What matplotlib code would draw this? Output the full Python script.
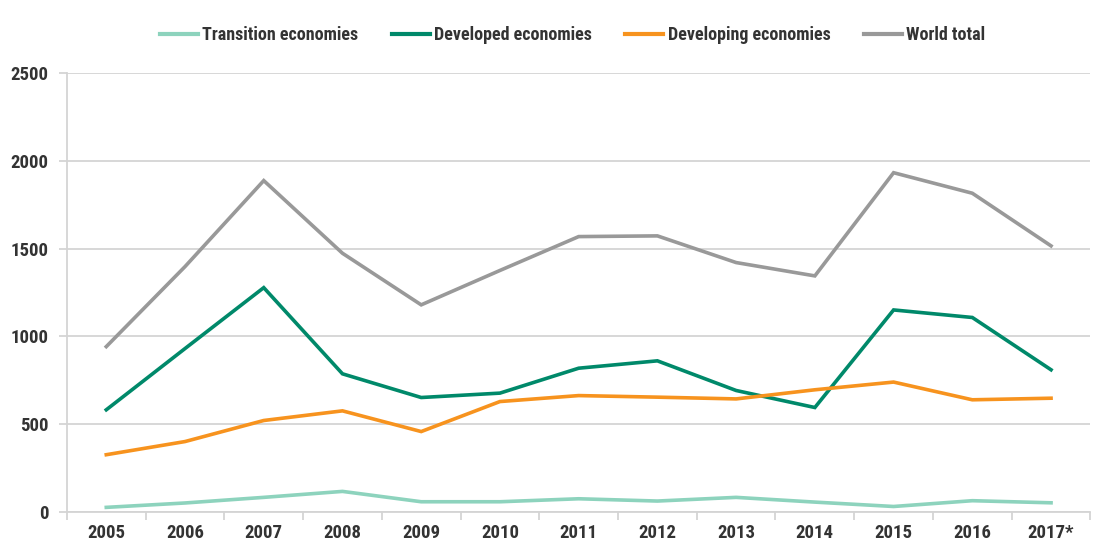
import numpy as np
import matplotlib
matplotlib.use("Agg")
import matplotlib.pyplot as plt
from matplotlib import font_manager

# narrow sans if there is one, else Liberation Sans (Arial metrics)
names = {f.name for f in font_manager.fontManager.ttflist}
family = 'Liberation Sans'
for cand in ['Roboto Condensed', 'Liberation Sans Narrow', 'Open Sans Condensed', 'Arial Narrow']:
    if cand in names:
        family = cand
        break
plt.rcParams['font.family'] = [family, 'DejaVu Sans']

years = ['2005', '2006', '2007', '2008', '2009', '2010', '2011',
         '2012', '2013', '2014', '2015', '2016', '2017*']
transition = [25, 50, 82, 116, 57, 57, 74, 61, 82, 55, 30, 63, 51]
developed = [581, 930, 1277, 786, 651, 676, 818, 860, 691, 594, 1150, 1107, 809]
developing = [325, 400, 520, 575, 457, 628, 662, 653, 643, 695, 739, 638, 647]
world = [941, 1397, 1887, 1473, 1179, 1375, 1568, 1572, 1420, 1344, 1932, 1815, 1515]

series = [
    ('Transition economies', transition, '#8dd3bd'),
    ('Developed economies', developed, '#00896a'),
    ('Developing economies', developing, '#f7931e'),
    ('World total', world, '#999999'),
]

fig = plt.figure(figsize=(10.97, 5.45), dpi=100)
ax = fig.add_axes([0.061, 0.061, 0.933, 0.805])

x = np.arange(len(years))
for name, vals, col in series:
    ax.plot(x, vals, color=col, lw=2.6, label=name, solid_joinstyle='miter')

ax.set_xlim(-0.5, len(years) - 0.5)
ax.set_ylim(0, 2500)
ax.set_yticks(np.arange(0, 2501, 500))
ax.yaxis.grid(True, color='#d4d4d4', lw=1.3)
ax.set_axisbelow(True)

ax.set_xticks(x)
ax.set_xticklabels(years)
ax.set_xticks(np.arange(-0.5, len(years)), minor=True)
ax.tick_params(axis='x', which='major', length=0, pad=9, labelsize=13.5)
ax.tick_params(axis='x', which='minor', length=6, width=1.3, color='#d4d4d4')
ax.tick_params(axis='y', length=6, width=1.3, color='#d4d4d4', pad=7, labelsize=13.5)
for lab in ax.get_xticklabels() + ax.get_yticklabels():
    lab.set_fontweight('bold')
    lab.set_color('#333333')

for s in ['top', 'right']:
    ax.spines[s].set_visible(False)
ax.spines['left'].set_color('#d4d4d4')
ax.spines['left'].set_linewidth(1.3)
ax.spines['bottom'].set_color('#d4d4d4')
ax.spines['bottom'].set_linewidth(1.3)

leg = fig.legend(loc='center', bbox_to_anchor=(0.522, 0.935), ncol=4, frameon=False,
                 handlelength=2.1, handletextpad=0.25, columnspacing=1.85,
                 prop={'size': 13, 'weight': 'bold'})
for t in leg.get_texts():
    t.set_color('#333333')
for h in leg.get_lines():
    h.set_linewidth(3)

fig.savefig('out.png', dpi=100)
